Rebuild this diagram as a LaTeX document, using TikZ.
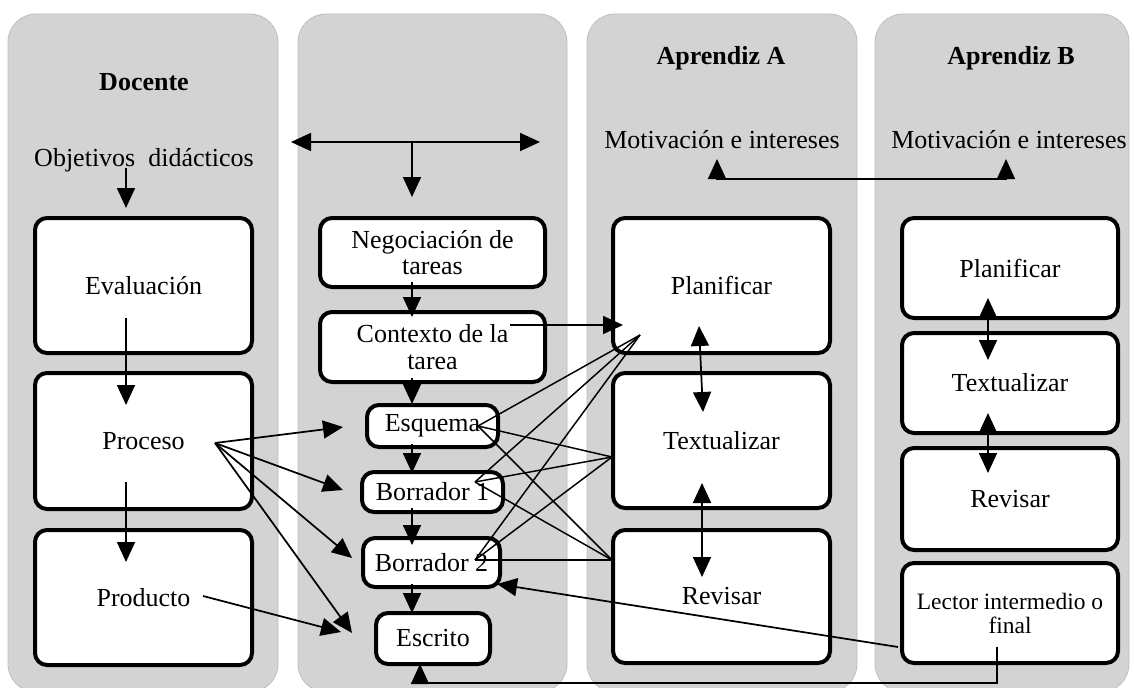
\documentclass[tikz,border=0pt]{standalone}
\usepackage{fontspec}
\setmainfont{Liberation Serif}
\usetikzlibrary{arrows.meta}
\definecolor{panelgray}{RGB}{211,211,211}
\definecolor{paneledge}{RGB}{190,190,190}
\begin{document}
\begin{tikzpicture}[x=0.75pt,y=-0.75pt,
  panel/.style={fill=panelgray, draw=paneledge, line width=0.6pt, rounded corners=21pt},
  box/.style={draw=black, fill=white, line width=3pt, rounded corners=9pt, align=center, inner sep=0pt, font=\fontsize{19.5}{20}\selectfont},
  smallbox/.style={box, font=\fontsize{17.6}{18}\selectfont},
  lbl/.style={font=\fontsize{19.5}{20}\selectfont, inner sep=0pt},
  hdr/.style={font=\fontsize{19.5}{20}\selectfont\bfseries, inner sep=0pt},
  arr/.style={line width=1.3pt, -{Triangle[length=15pt,width=13.5pt]}},
  darr/.style={line width=1.3pt, {Triangle[length=15pt,width=13.5pt]}-{Triangle[length=15pt,width=13.5pt]}},
  ln/.style={line width=1.1pt}
]
\useasboundingbox (0,0) rectangle (1134,688);
\fill[white] (0,0) rectangle (1134,688);
% panels
\path[panel] (8,14) rectangle (278,692);
\path[panel] (298,14) rectangle (567,692);
\path[panel] (587,14) rectangle (857,692);
\path[panel] (875,14) rectangle (1129,692);

% headers and labels
\node[hdr] (doc) at (144,82) {Docente};
\node[hdr] (apa) at (721,58) {Aprendiz A};
\node[hdr] (apb) at (1011,58) {Aprendiz B};
\node[lbl] (obj) at (144,160) {Objetivos\ \ didácticos};
\node[lbl] (motA) at (722,140) {Motivación e intereses};
\node[lbl] (motB) at (1009,140) {Motivación e intereses};

% Docente boxes
\node[box, minimum width=162.75pt, minimum height=101.25pt] (eval) at (143.5,285.5) {Evaluación};
\node[box, minimum width=162.75pt, minimum height=102pt] (proc) at (143.5,441) {Proceso};
\node[box, minimum width=162.75pt, minimum height=101.25pt] (prod) at (143.5,597.5) {Producto};

% column 2 boxes
\node[box, minimum width=168.75pt, minimum height=51.75pt] (neg) at (432.5,252.5) {Negociación de\\tareas};
\node[box, minimum width=168.75pt, minimum height=52.5pt] (ctx) at (432.5,347) {Contexto de la\\tarea};
\node[box, minimum width=98.25pt, minimum height=31.5pt] (esq) at (432.5,426) {Esquema};
\node[box, minimum width=105.75pt, minimum height=30pt] (b1) at (432.5,492) {Borrador 1};
\node[box, minimum width=102.75pt, minimum height=36.75pt] (b2) at (431.5,562.5) {Borrador 2};
\node[box, minimum width=85.5pt, minimum height=38.25pt] (esc) at (433,638.5) {Escrito};

% Aprendiz A boxes
\node[box, minimum width=162.75pt, minimum height=101.25pt] (plA) at (721.5,285.5) {Planificar};
\node[box, minimum width=162.75pt, minimum height=101.25pt] (txA) at (721.5,440.5) {Textualizar};
\node[box, minimum width=162.75pt, minimum height=99.75pt] (rvA) at (721.5,596.5) {Revisar};

% Aprendiz B boxes
\node[box, minimum width=162pt, minimum height=75pt] (plB) at (1010,268) {Planificar};
\node[box, minimum width=162pt, minimum height=75pt] (txB) at (1010,383) {Textualizar};
\node[box, minimum width=162pt, minimum height=76.5pt] (rvB) at (1010,499) {Revisar};
\node[smallbox, minimum width=162pt, minimum height=75pt] (lec) at (1010,613) {Lector intermedio o\\final};

% coordinates
\coordinate (objA) at (126,168); \coordinate (objB) at (126,208);
\coordinate (tl) at (291,142); \coordinate (tr) at (540,142);
\coordinate (tm) at (412,142); \coordinate (tb) at (412,197);
\coordinate (evA) at (126,318); \coordinate (evB) at (126,405);
\coordinate (prA) at (126,482); \coordinate (prB) at (126,562);
\coordinate (c1a) at (412,282); \coordinate (c1b) at (412,317);
\coordinate (c2a) at (412,378); \coordinate (c2b) at (412,404);
\coordinate (c3a) at (412,444); \coordinate (c3b) at (412,473);
\coordinate (c4a) at (412,508); \coordinate (c4b) at (412,545);
\coordinate (c5a) at (412,584); \coordinate (c5b) at (412,613);
\coordinate (pE) at (478,426); \coordinate (pB1) at (475,482); \coordinate (pB2) at (475,560);
\coordinate (pP) at (640,335); \coordinate (pT) at (612,457); \coordinate (pR) at (612,560);
\coordinate (proc0) at (215,443); \coordinate (prod0) at (203,596);
\coordinate (tE) at (343,427); \coordinate (tB1) at (343,490); \coordinate (tB2) at (352,558);
\coordinate (tEs) at (352,633); \coordinate (tEs2) at (341,632);
\coordinate (cx) at (510,325); \coordinate (cp) at (623,325);
\coordinate (lx) at (898,647); \coordinate (lb) at (497,584);
\coordinate (lv) at (997,647); \coordinate (lvb) at (997,683); \coordinate (escB) at (420,664);
\coordinate (mA) at (717,179); \coordinate (mB) at (1006,179);
\coordinate (mAt) at (717,159); \coordinate (mBt) at (1006,159);
\coordinate (a1) at (699,326); \coordinate (a2) at (703,412);
\coordinate (a3) at (702,483); \coordinate (a4) at (702,577);
\coordinate (b1a) at (988,298); \coordinate (b1b) at (988,360);
\coordinate (b2a) at (988,413); \coordinate (b2b) at (988,473);

% connectors
\draw[arr] (objA) -- (objB);
\draw[darr] (tl) -- (tr);
\draw[arr] (tm) -- (tb);
\draw[arr] (evA) -- (evB);
\draw[arr] (prA) -- (prB);
\draw[arr] (c1a) -- (c1b);
\draw[arr] (c2a) -- (c2b);
\draw[arr] (c3a) -- (c3b);
\draw[arr] (c4a) -- (c4b);
\draw[arr] (c5a) -- (c5b);
\foreach \s in {pE,pB1,pB2}{\foreach \t in {pP,pT,pR}{\draw[ln] (\s) -- (\t);}}
\draw[arr] (proc0) -- (tE);
\draw[arr] (proc0) -- (tB1);
\draw[arr] (proc0) -- (tB2);
\draw[arr] (proc0) -- (tEs);
\draw[arr] (prod0) -- (tEs2);
\draw[arr] (cx) -- (cp);
\draw[arr] (lx) -- (lb);
\draw[arr] (lv) -- (lvb) -| (escB);
\draw[ln] (mA) -- (mB);
\draw[arr] (mA) -- (mAt);
\draw[arr] (mB) -- (mBt);
\draw[darr] (a1) -- (a2);
\draw[darr] (a3) -- (a4);
\draw[darr] (b1a) -- (b1b);
\draw[darr] (b2a) -- (b2b);
\end{tikzpicture}
\end{document}
